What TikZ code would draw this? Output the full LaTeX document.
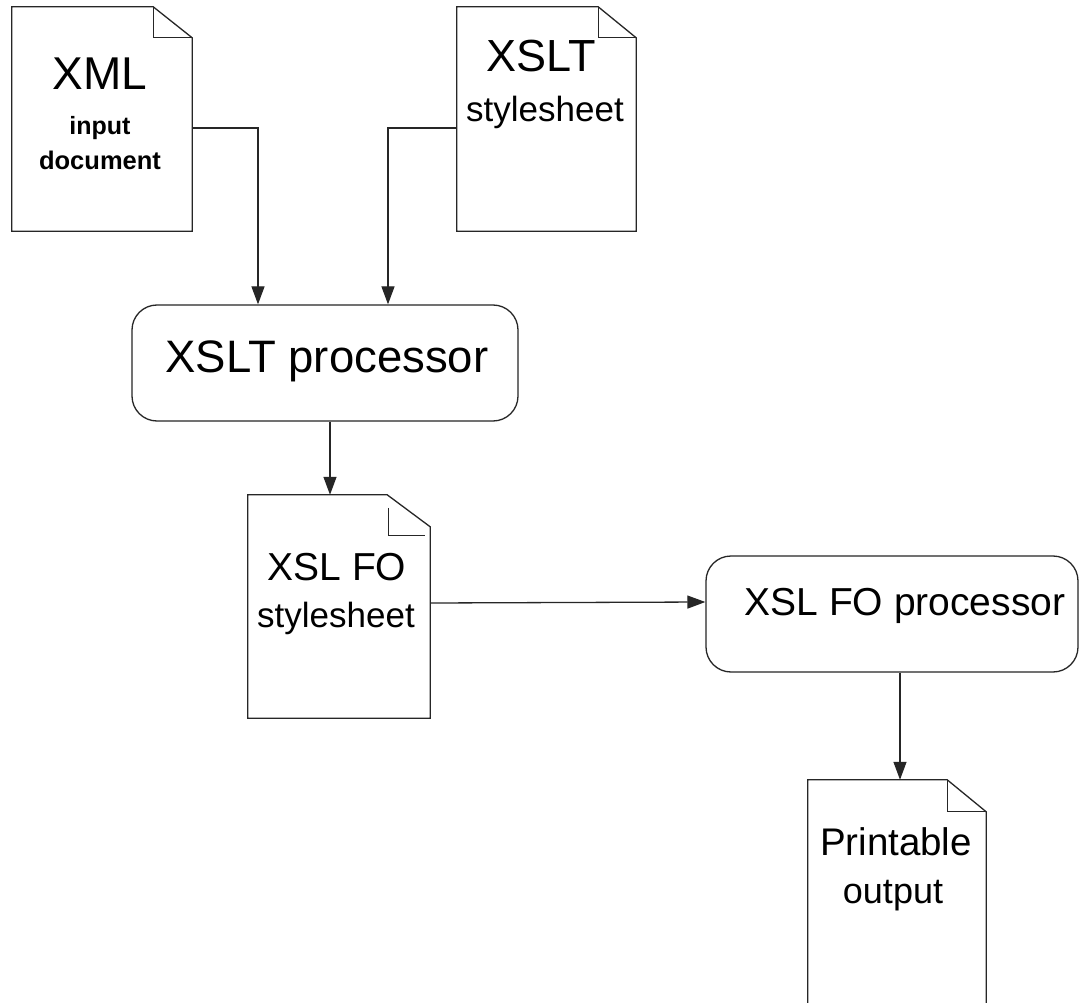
\documentclass[tikz,border=0pt]{standalone}
\usepackage{fontspec}
\setmainfont{Liberation Sans}
\usetikzlibrary{arrows.meta}
\tikzset{
  ln/.style={line width=1.3pt, draw=black!85},
  docbox/.style={rectangle, inner sep=0pt, draw=none},
  procbox/.style={rectangle, inner sep=0pt, ln, rounded corners=25pt},
  arr/.style={ln, arrows={-Triangle[length=18pt, width=13pt]}},
  lbl/.style={anchor=base, inner sep=0pt},
}
\newcommand\docoutline[3]{% node, fold dx, fold dy
  \draw[ln] (#1.south west) -- (#1.north west) -- ([xshift=-#2pt]#1.north east)
    -- ([yshift=-#3pt]#1.north east) -- (#1.south east) -- cycle;
  \draw[ln] ([xshift=-#2pt]#1.north east) |- ([yshift=-#3pt]#1.north east);
}
\begin{document}
\begin{tikzpicture}[x=1pt,y=-1pt]
\useasboundingbox (0,0) rectangle (1080,1003);
\clip (0,0) rectangle (1080,1003);
\fill[white] (0,0) rectangle (1080,1003);

% documents
\node[docbox, minimum width=180pt, minimum height=224pt] (xml) at (102,119) {};
\node[docbox, minimum width=179pt, minimum height=224pt] (xslt) at (546.5,119) {};
\node[docbox, minimum width=182pt, minimum height=223pt] (fodoc) at (339,606.5) {};
\node[docbox, minimum width=178pt, minimum height=240pt] (print) at (897,900) {};
\docoutline{xml}{39}{31}
\docoutline{xslt}{38}{31}
\draw[ln] (fodoc.south west) -- (fodoc.north west) -- ([xshift=-43pt]fodoc.north east)
  -- ([yshift=-32pt]fodoc.north east) -- (fodoc.south east) -- cycle;
\draw[ln] ([xshift=-42pt,yshift=-13pt]fodoc.north east) |- ([xshift=-5pt,yshift=-41pt]fodoc.north east);
\docoutline{print}{39}{32}

% processors
\node[procbox, minimum width=386pt, minimum height=116pt] (proc) at (325,363) {};
\node[procbox, minimum width=372pt, minimum height=116pt] (foproc) at (892,614) {};

% texts
\node[lbl, font=\fontsize{46}{50}\selectfont] (t1) at (100,90) {XML};
\node[lbl, font=\fontsize{25}{28}\selectfont\bfseries] (t2) at (100,135) {input};
\node[lbl, font=\fontsize{25.5}{28}\selectfont\bfseries] (t3) at (100,170) {document};
\node[lbl, font=\fontsize{45}{50}\selectfont] (t4) at (541,72) {XSLT};
\node[lbl, font=\fontsize{35}{40}\selectfont] (t5) at (545,122) {stylesheet};
\node[lbl, font=\fontsize{45.5}{50}\selectfont] (t6) at (327,372) {XSLT processor};
\node[lbl, font=\fontsize{39}{44}\selectfont] (t7) at (337,580) {XSL FO};
\node[lbl, font=\fontsize{35}{40}\selectfont] (t8) at (336,627) {stylesheet};
\node[lbl, font=\fontsize{39}{44}\selectfont] (t9) at (905,615) {XSL FO processor};
\node[lbl, font=\fontsize{38.5}{44}\selectfont] (t10) at (896,855) {Printable};
\node[lbl, font=\fontsize{36}{40}\selectfont] (t11) at (893,903) {output};

% connectors
\draw[arr] ([yshift=-9pt]xml.east) -| ([xshift=-67pt]proc.north);
\draw[arr] ([yshift=-9pt]xslt.west) -| ([xshift=63pt]proc.north);
\draw[arr] ([xshift=5pt]proc.south) -- ([xshift=-9pt]fodoc.north);
\draw[arr] ([yshift=3.5pt]fodoc.east) -- ([yshift=12pt]foproc.west);
\draw[arr] ([xshift=8pt]foproc.south) -- ([xshift=3pt]print.north);
\end{tikzpicture}
\end{document}
